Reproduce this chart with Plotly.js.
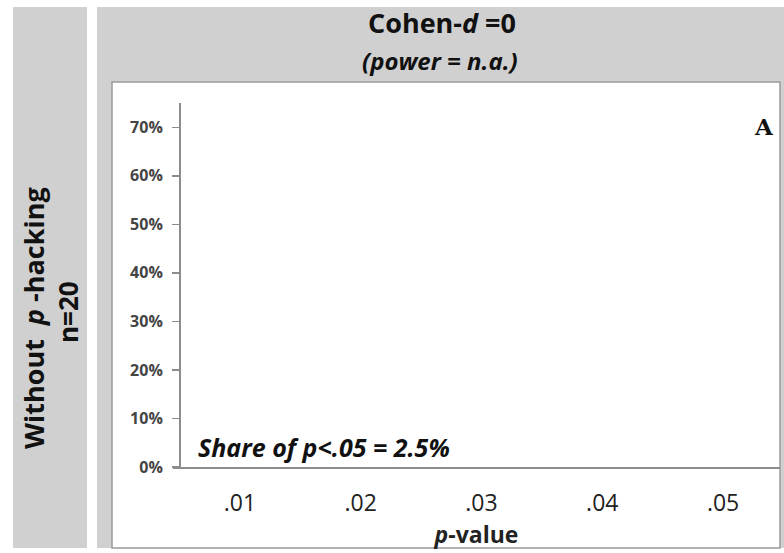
<!DOCTYPE html>
<html>
<head>
<meta charset="utf-8">
<script src="https://cdn.plot.ly/plotly-3.0.1.min.js"></script>
<style>html,body{margin:0;padding:0;background:#fff;}#chart{width:784px;height:553px;}</style>
</head>
<body>
<div id="chart"></div>
<script>
// ---- data ----
const pValueTicks = [0.01, 0.02, 0.03, 0.04, 0.05];
const pValueTickLabels = ['.01', '.02', '.03', '.04', '.05'];
const shareTicks = [0, 10, 20, 30, 40, 50, 60, 70];
const shareTickLabels = ['0%', '10%', '20%', '30%', '40%', '50%', '60%', '70%'];
// no curve is visible in this panel (Cohen-d = 0, power n.a.)
const shareValues = [null, null, null, null, null];
const shareSignificant = '2.5%';
const columnTitle = 'Cohen-<i>d</i> =0';
const columnSubtitle = '<i>(power = n.a.)</i>';
const rowTitle1 = 'Without  <i>p</i> -hacking';
const rowTitle2 = 'n=20';
const panelLetter = 'A';

// ---- layout helpers (pixel -> paper) ----
const W = 784, H = 553;
const px = x => x / W;
const py = y => 1 - y / H;
const GRAY = '#d0d0d0';
const FONT = 'Open Sans, Lato, sans-serif';

const shapes = [
  {type:'rect', xref:'paper', yref:'paper', x0:px(13), x1:px(87), y0:py(548), y1:py(7), fillcolor:GRAY, line:{width:0}, layer:'below'},
  {type:'rect', xref:'paper', yref:'paper', x0:px(97), x1:px(784), y0:py(548), y1:py(7), fillcolor:GRAY, line:{width:0}, layer:'below'},
  {type:'rect', xref:'paper', yref:'paper', x0:px(112), x1:px(780), y0:py(548), y1:py(82), fillcolor:'#ffffff', line:{width:1.5, color:'#9a9a9a'}, layer:'below'}
];

const annotations = [
  {xref:'paper', yref:'paper', x:px(442), y:py(23), text:'<b>'+columnTitle+'</b>', showarrow:false, xanchor:'center', yanchor:'middle', font:{family:FONT, size:27, color:'#111'}},
  {xref:'paper', yref:'paper', x:px(440), y:py(61), text:'<b>'+columnSubtitle+'</b>', showarrow:false, xanchor:'center', yanchor:'middle', font:{family:FONT, size:24, color:'#111'}},
  {xref:'paper', yref:'paper', x:px(33), y:py(318), text:'<b>'+rowTitle1+'</b>', textangle:-90, showarrow:false, xanchor:'center', yanchor:'middle', font:{family:FONT, size:27, color:'#111'}},
  {xref:'paper', yref:'paper', x:px(68), y:py(312), text:'<b>'+rowTitle2+'</b>', textangle:-90, showarrow:false, xanchor:'center', yanchor:'middle', font:{family:FONT, size:26, color:'#111'}},
  {xref:'paper', yref:'paper', x:px(764), y:py(126), text:'<b>'+panelLetter+'</b>', showarrow:false, xanchor:'center', yanchor:'middle', font:{family:'DejaVu Serif, serif', size:23, color:'#111'}},
  {xref:'paper', yref:'paper', x:px(196), y:py(447), text:'<b><i>Share of p&lt;.05 = '+shareSignificant+'</i></b>', showarrow:false, xanchor:'left', yanchor:'middle', font:{family:FONT, size:25, color:'#111'}}
];

const traces = [{
  type:'scatter', mode:'lines', x:pValueTicks, y:shareValues,
  line:{color:'#000', width:2}, showlegend:false, hoverinfo:'skip'
}];

const layout = {
  width:W, height:H,
  margin:{l:0, r:0, t:0, b:0},
  paper_bgcolor:'#ffffff', plot_bgcolor:'rgba(0,0,0,0)',
  showlegend:false,
  shapes:shapes,
  annotations:annotations,
  xaxis:{
    domain:[px(173), px(780)],
    range:[0.004463, 0.054711],
    tickmode:'array', tickvals:pValueTicks, ticktext:pValueTickLabels,
    ticks:'', showgrid:false, zeroline:false,
    showline:true, linecolor:'#8c8c8c', linewidth:2,
    ticklabelstandoff:14,
    tickfont:{family:FONT, size:23, color:'#222'},
    title:{text:'<b><i>p</i>-value</b>', standoff:2, font:{family:FONT, size:23, color:'#222'}},
    anchor:'y', fixedrange:true
  },
  yaxis:{
    domain:[py(467), py(103)],
    range:[0, 75],
    anchor:'free', position:px(179),
    tickmode:'array', tickvals:shareTicks, ticktext:shareTickLabels,
    ticks:'outside', ticklen:7, tickwidth:1.5, tickcolor:'#8c8c8c',
    showgrid:false, zeroline:false,
    showline:true, linecolor:'#8c8c8c', linewidth:1.5,
    ticklabelstandoff:6,
    tickfont:{family:FONT, size:16, color:'#444', weight:'bold'},
    fixedrange:true
  }
};

Plotly.newPlot('chart', traces, layout, {displayModeBar:false, staticPlot:true});
</script>
</body>
</html>
